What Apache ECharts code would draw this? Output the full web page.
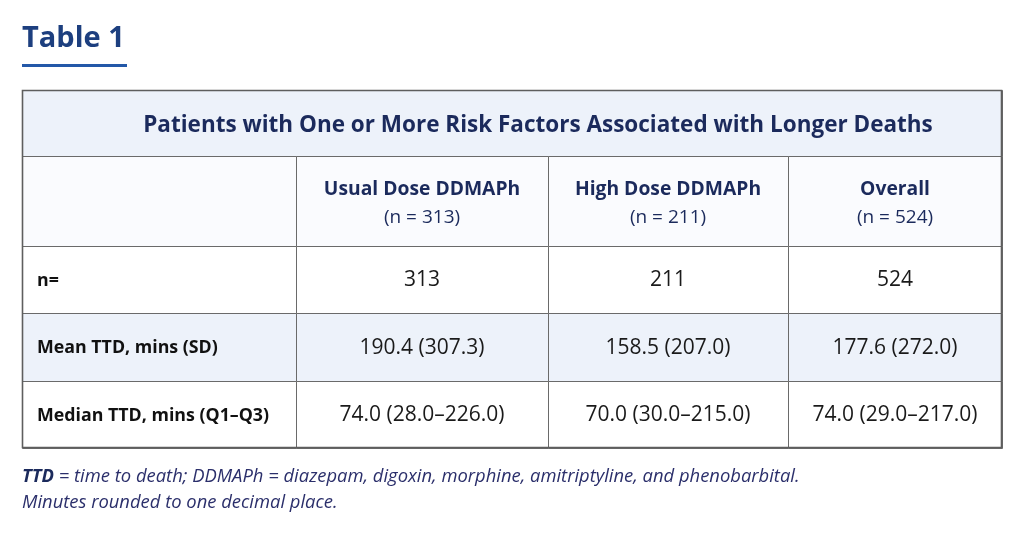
<!DOCTYPE html>
<html><head><meta charset="utf-8">
<script src="https://cdn.jsdelivr.net/npm/echarts@6/dist/echarts.min.js"></script>
<style>html,body{margin:0;padding:0;background:#fff}#c{width:1024px;height:552px}</style>
</head><body><div id="c"></div>
<script>
// ---- data ----
const heading = "Table 1";
const tableTitle = "Patients with One or More Risk Factors Associated with Longer Deaths";
const groups = ["Usual Dose DDMAPh", "High Dose DDMAPh", "Overall"];
const groupN = ["(n = 313)", "(n = 211)", "(n = 524)"];
const rowLabels = ["n=", "Mean TTD, mins (SD)", "Median TTD, mins (Q1–Q3)"];
const nValues = ["313", "211", "524"];
const meanValues = ["190.4 (307.3)", "158.5 (207.0)", "177.6 (272.0)"];
const medianValues = ["74.0 (28.0–226.0)", "70.0 (30.0–215.0)", "74.0 (29.0–217.0)"];
const footAbbrev = "TTD";
const footLine1 = " = time to death; DDMAPh = diazepam, digoxin, morphine, amitriptyline, and phenobarbital.";
const footLine2 = "Minutes rounded to one decimal place.";

// ---- layout ----
const colEdges = [0, 274, 526, 766, 980];
const rowEdges = [0, 66, 156, 223, 291, 358];
const FONT = '"Open Sans"';
const navy = '#1b2a5c';
const blueBg = '#edf2fa';
const headBg = '#fafbfe';
const border = '#6a6a6a';

const bodyRows = [nValues, meanValues, medianValues];
const cells = [];
cells.push({c0:0,c1:4,r0:0,r1:1,kind:'title',text:tableTitle,bg:blueBg});
cells.push({c0:0,c1:1,r0:1,r1:2,kind:'blank',text:'',bg:headBg});
groups.forEach((g,i)=>cells.push({c0:i+1,c1:i+2,r0:1,r1:2,kind:'head',text:g,sub:groupN[i],bg:headBg}));
rowLabels.forEach((lab,r)=>{
  const bg = r===1 ? blueBg : '#fff';
  cells.push({c0:0,c1:1,r0:r+2,r1:r+3,kind:'label',text:lab,bg});
  bodyRows[r].forEach((v,i)=>cells.push({c0:i+1,c1:i+2,r0:r+2,r1:r+3,kind:'value',text:v,bg}));
});
cells.push({c0:0,c1:4,r0:0,r1:5,kind:'frame',text:'',bg:null});

function renderItem(params, api){
  const d = cells[params.dataIndex];
  const p0 = api.coord([colEdges[d.c0], rowEdges[d.r0]]);
  const p1 = api.coord([colEdges[d.c1], rowEdges[d.r1]]);
  const x=p0[0], y=p0[1], w=p1[0]-p0[0], h=p1[1]-p0[1];
  if(d.kind==='frame'){
    return {type:'rect', shape:{x:x+0.5,y:y+0.5,width:w-1,height:h-1}, style:{fill:null, stroke:'#5e5e5e', lineWidth:1.6}};
  }
  const children = [{type:'rect', shape:{x:x+0.5,y:y+0.5,width:w,height:h}, style:{fill:d.bg, stroke:border, lineWidth:1}}];
  let ts;
  if(d.kind==='title'){
    ts={text:d.text,x:x+w/2+26,y:y+h/2+3,align:'center',verticalAlign:'middle',fill:navy,font:'bold 22.5px '+FONT};
  } else if(d.kind==='head'){
    ts={text:'{b|'+d.text+'}\n{n|'+d.sub+'}',x:x+w/2,y:y+h/2+3,align:'center',verticalAlign:'middle',
      rich:{b:{font:'bold 19.3px '+FONT,fill:navy,lineHeight:28,align:'center'},n:{font:'19px '+FONT,fill:navy,lineHeight:28,align:'center'}}};
  } else if(d.kind==='label'){
    ts={text:d.text,x:x+15,y:y+h/2+1,align:'left',verticalAlign:'middle',fill:'#111',font:'bold 17.8px '+FONT};
  } else if(d.kind==='value'){
    ts={text:d.text,x:x+w/2,y:y+h/2+1,align:'center',verticalAlign:'middle',fill:'#1a1a1a',font:'21px '+FONT};
  }
  if(ts) children.push({type:'text',style:ts});
  return {type:'group',children};
}

const chart = echarts.init(document.getElementById('c'), null, {renderer:'canvas'});
chart.setOption({
  animation:false,
  grid:{left:22,right:22,top:90,bottom:104},
  xAxis:{type:'value',min:0,max:980,show:false},
  yAxis:{type:'value',min:0,max:358,inverse:true,show:false},
  series:[{type:'custom',renderItem,data:cells.map(c=>[colEdges[c.c0],rowEdges[c.r0]]),clip:false}],
  graphic:[
    {type:'text',left:22,top:24,style:{text:heading,font:'bold 29px '+FONT,fill:'#1d3f7f'}},
    {type:'rect',left:22,top:64,shape:{width:105,height:3},style:{fill:'#2358a8'}},
    {type:'text',left:22,top:468,style:{text:'{b|'+footAbbrev+'}{i|'+footLine1+'}\n{i|'+footLine2+'}',
      rich:{b:{font:'italic bold 18.4px '+FONT,fill:'#1b2a5c',lineHeight:26},i:{font:'italic 18.4px '+FONT,fill:'#2b2f6b',lineHeight:26}}}}
  ]
});
</script></body></html>
